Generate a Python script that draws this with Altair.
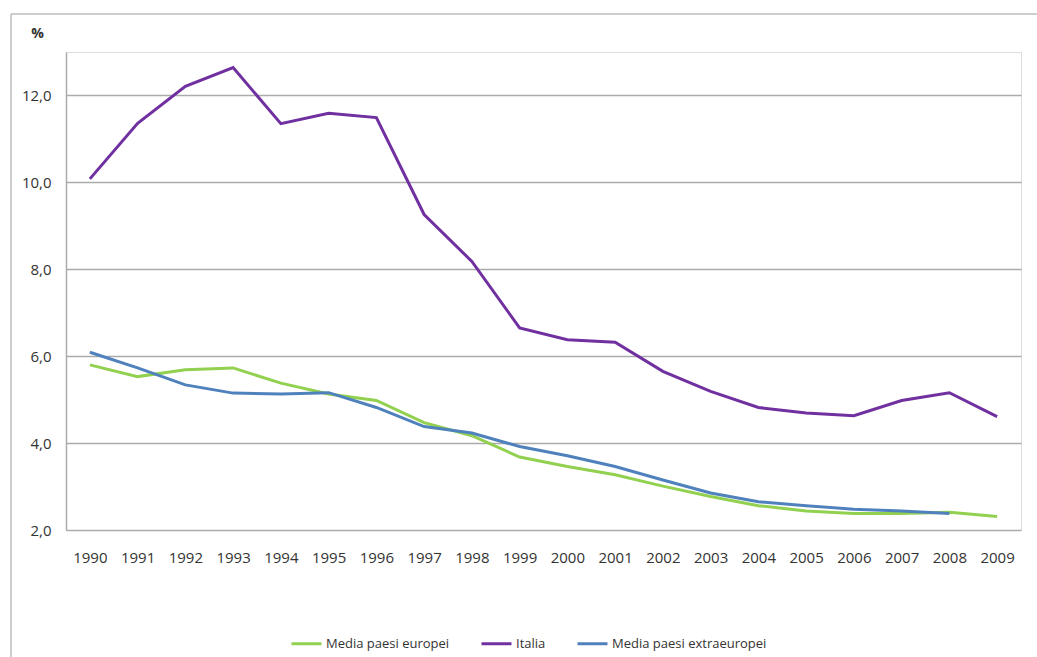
import altair as alt
import pandas as pd

years = [str(y) for y in range(1990, 2010)]
italia = [10.08, 11.36, 12.21, 12.64, 11.35, 11.59, 11.49, 9.26, 8.18, 6.65,
          6.38, 6.32, 5.65, 5.19, 4.82, 4.69, 4.63, 4.98, 5.16, 4.61]
europei = [5.80, 5.53, 5.69, 5.73, 5.38, 5.13, 4.98, 4.47, 4.17, 3.68,
           3.46, 3.27, 3.01, 2.77, 2.56, 2.44, 2.38, 2.38, 2.41, 2.31]
extraeuropei = [6.09, 5.73, 5.34, 5.15, 5.13, 5.16, 4.82, 4.38, 4.23, 3.92,
                3.71, 3.46, 3.15, 2.85, 2.65, 2.56, 2.48, 2.44, 2.38, None]
series_names = ["Media paesi europei", "Italia", "Media paesi extraeuropei"]
series_colors = ["#92D050", "#7030A0", "#4F81BD"]

rows = []
for name, vals in zip(series_names, [europei, italia, extraeuropei]):
    for y, v in zip(years, vals):
        if v is not None:
            rows.append({"anno": y, "valore": v, "serie": name})
df = pd.DataFrame(rows)

FONT = "Open Sans"
GRID = "#ABABAB"

lines = alt.Chart(df).mark_line(strokeWidth=3).encode(
    x=alt.X("anno:O", sort=years,
            scale=alt.Scale(type="point", padding=0.5),
            axis=alt.Axis(title=None, labelAngle=0, domain=False, ticks=False,
                          labelPadding=20, labelFontSize=15, labelFont=FONT,
                          labelColor="#333333", grid=False)),
    y=alt.Y("valore:Q",
            scale=alt.Scale(domain=[2, 13], nice=False, zero=False),
            axis=alt.Axis(values=[2, 4, 6, 8, 10, 12],
                          labelExpr="replace(format(datum.value, '.1f'), '.', ',')",
                          title="%", titleAngle=0, titleX=-29, titleY=-12,
                          titleFont=FONT, titleFontSize=14, titleFontWeight="bold",
                          titleColor="#333333", titleAlign="center",
                          labelFont=FONT, labelFontSize=15, labelColor="#333333",
                          labelPadding=15, ticks=False,
                          domainColor=GRID, domainWidth=1.5,
                          gridColor=GRID, gridWidth=1.5)),
    color=alt.Color("serie:N",
                    scale=alt.Scale(domain=series_names, range=series_colors),
                    sort=series_names,
                    legend=alt.Legend(title=None, orient="none", direction="horizontal",
                                      legendX=224, legendY=575,
                                      symbolType="stroke", symbolSize=900,
                                      symbolStrokeWidth=3, labelFont=FONT,
                                      labelFontSize=13, labelColor="#333333",
                                      columnPadding=25, labelOffset=3)),
)

frame_top = alt.Chart(pd.DataFrame({"k": [0]})).mark_rule(color="#BDBDBD", strokeWidth=1.5).encode(
    x=alt.value(-55), x2=alt.value(971), y=alt.value(-38)
)
frame_left = alt.Chart(pd.DataFrame({"k": [0]})).mark_rule(color="#BDBDBD", strokeWidth=1.5).encode(
    x=alt.value(-55), y=alt.value(-38), y2=alt.value(605)
)

chart = alt.layer(frame_top, frame_left, lines).properties(
    width=955, height=478,
    autosize=alt.AutoSizeParams(type="none"),
    padding={"left": 66, "top": 52, "right": 16, "bottom": 127},
).configure_view(stroke=None).configure(background="white")

chart.save("out.html", embed_options={"renderer": "svg", "actions": False})
